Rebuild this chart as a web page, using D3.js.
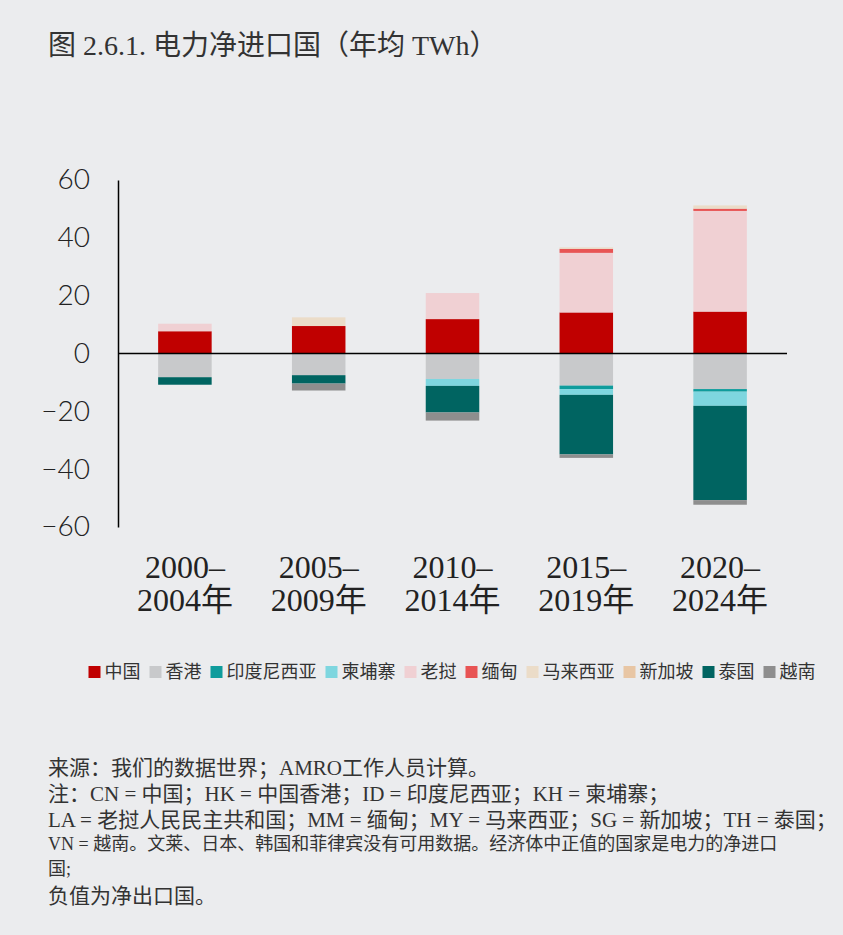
<!DOCTYPE html>
<html>
<head>
<meta charset="utf-8">
<script src="https://cdn.jsdelivr.net/npm/d3@7"></script>
<style>
  body { margin: 0; background: #ebecee; }
  svg { display: block; }
</style>
</head>
<body>
<svg id="chart" width="843" height="935"></svg>
<script>
// periods (x categories)
var periods = ["2000–2004年", "2005–2009年", "2010–2014年", "2015–2019年", "2020–2024年"];
var countries = ["中国", "香港", "印度尼西亚", "柬埔寨", "老挝", "缅甸", "马来西亚", "新加坡", "泰国", "越南"];

// net imports, TWh per year
var cn = [7.7, 9.5, 11.9, 14.2, 14.5];
var hk = [-8.2, -7.5, -8.8, -11.1, -12.3];
var id = [0, 0, 0, -1.2, -0.9];
var kh = [0, 0, -2.4, -2.0, -4.9];
var la = [2.6, 0, 9.0, 20.6, 34.8];
var mm = [0, 0, 0, 1.4, 0.8];
var my = [0, 3.0, 0, 0.5, 1.1];
var sg = [0, 0, 0, 0, 0];
var th = [-2.6, -2.9, -9.2, -20.6, -32.6];
var vn = [0, -2.4, -2.8, -1.2, -1.6];
var yTicks = [-60, -40, -20, 0, 20, 40, 60];

var seriesValues = [cn, hk, id, kh, la, mm, my, sg, th, vn];
var colors = ["#c00000", "#c8c9cb", "#0f9c9c", "#7ed6df", "#f0d0d3", "#e85454",
              "#ebdcc8", "#e8c6a4", "#006461", "#8e8e8e"];

var svg = d3.select("#chart");
var serif = "'Liberation Serif', 'Noto Sans CJK SC', serif";
var cjk = "'Noto Sans CJK SC', sans-serif";

// title
svg.append("text")
    .attr("x", 48)
    .attr("y", 55)
    .style("font-family", serif)
    .style("font-size", "28px")
    .style("fill", "#333")
    .text("图 2.6.1. 电力净进口国（年均 TWh）");

// build rows for the stack
var rows = periods.map(function(p, i) {
  var r = { period: p };
  countries.forEach(function(c, j) { r[c] = seriesValues[j][i]; });
  return r;
});

var stack = d3.stack()
    .keys(countries)
    .offset(d3.stackOffsetDiverging);
var layers = stack(rows);

var x = d3.scaleBand()
    .domain(periods)
    .range([118, 787])
    .paddingInner(0.6)
    .paddingOuter(0.3);

var y = d3.scaleLinear()
    .domain([-60, 60])
    .range([527, 180]);

// bars
svg.append("g")
  .selectAll("g")
    .data(layers)
  .enter().append("g")
    .attr("fill", function(d, i) { return colors[i]; })
  .selectAll("rect")
    .data(function(d) { return d; })
  .enter().append("rect")
    .attr("x", function(d) { return x(d.data.period); })
    .attr("width", x.bandwidth())
    .attr("y", function(d) { return y(Math.max(d[0], d[1])); })
    .attr("height", function(d) { return Math.abs(y(d[0]) - y(d[1])); });

// y axis
var yAxis = svg.append("g")
    .attr("transform", "translate(118,0)")
    .call(d3.axisLeft(y).tickValues(yTicks).tickSize(0).tickSizeOuter(0).tickPadding(28));
yAxis.select(".domain").attr("stroke", "#000").attr("stroke-width", 1.5);
yAxis.selectAll("text")
    .style("font-family", "Lato, 'Open Sans', sans-serif")
    .style("font-weight", 300)
    .style("font-size", "28px")
    .style("fill", "#222");

// zero line
svg.append("line")
    .attr("x1", 118)
    .attr("x2", 787)
    .attr("y1", y(0))
    .attr("y2", y(0))
    .attr("stroke", "#000")
    .attr("stroke-width", 1.5);

// x labels in two lines
var xl = svg.append("g")
  .selectAll("text")
    .data(periods)
  .enter().append("text")
    .attr("text-anchor", "middle")
    .style("font-family", serif)
    .style("font-size", "32px")
    .style("fill", "#222");
xl.append("tspan")
    .attr("x", function(d) { return x(d) + x.bandwidth() / 2; })
    .attr("y", 578)
    .text(function(d) { return d.split("–")[0] + "–"; });
xl.append("tspan")
    .attr("x", function(d) { return x(d) + x.bandwidth() / 2; })
    .attr("y", 611)
    .text(function(d) { return d.split("–")[1]; });

// legend, one row, measured
var legend = svg.append("g");
var lx = 0;
countries.forEach(function(c, i) {
  legend.append("rect")
      .attr("x", lx)
      .attr("y", -6)
      .attr("width", 12)
      .attr("height", 12)
      .attr("fill", colors[i]);
  var t = legend.append("text")
      .attr("x", lx + 16)
      .attr("y", 0)
      .attr("dy", "0.35em")
      .style("font-family", cjk)
      .style("font-size", "18px")
      .style("fill", "#333")
      .text(c);
  lx += 16 + t.node().getComputedTextLength() + 9;
});
lx -= 9;
legend.attr("transform", "translate(" + (452 - lx / 2) + ",672)");

// notes
var notes = [
  { t: "来源：我们的数据世界；AMRO工作人员计算。", y: 775, s: 21 },
  { t: "注：CN = 中国；HK = 中国香港；ID = 印度尼西亚；KH = 柬埔寨；", y: 801, s: 21 },
  { t: "LA = 老挝人民民主共和国；MM = 缅甸；MY = 马来西亚；SG = 新加坡；TH = 泰国；", y: 827, s: 21 },
  { t: "VN = 越南。文莱、日本、韩国和菲律宾没有可用数据。经济体中正值的国家是电力的净进口", y: 850, s: 18 },
  { t: "国;", y: 875, s: 18 },
  { t: "负值为净出口国。", y: 903, s: 21 }
];
svg.append("g")
  .selectAll("text")
    .data(notes)
  .enter().append("text")
    .attr("x", 48)
    .attr("y", function(d) { return d.y; })
    .style("font-family", serif)
    .style("font-size", function(d) { return d.s + "px"; })
    .style("fill", "#333")
    .text(function(d) { return d.t; });
</script>
</body>
</html>
